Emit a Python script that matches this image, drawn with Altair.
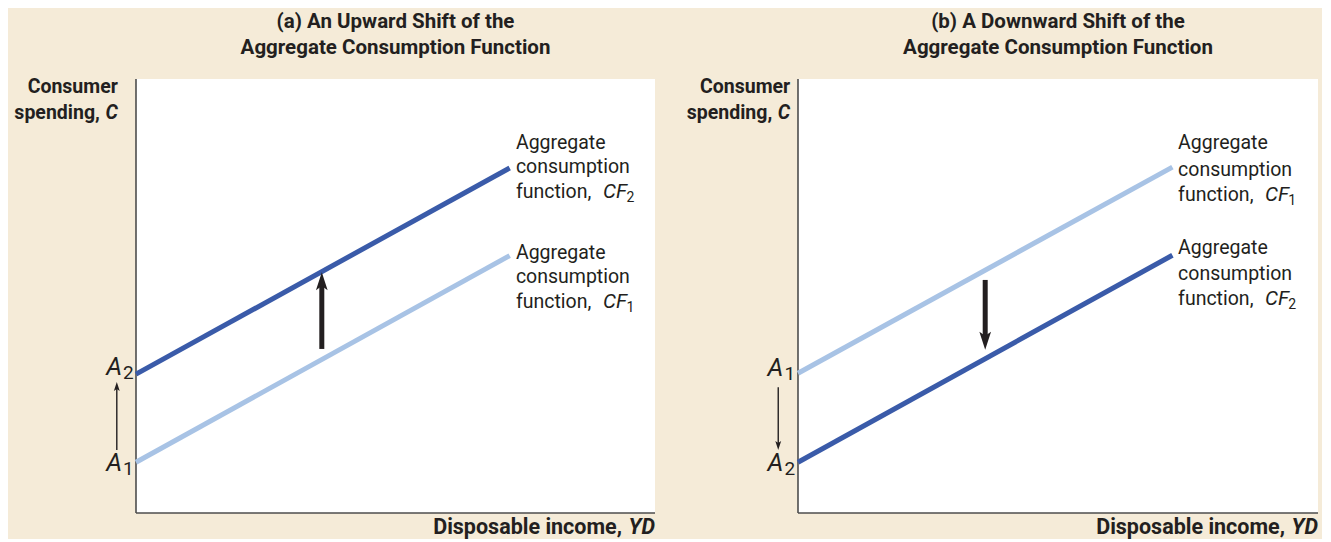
import altair as alt
import pandas as pd

BG = "#F5EBD8"
DARK = "#3A5BA9"
LIGHT = "#A8C3E5"
INK = "#231F20"
AXIS = "#4D4D4D"
FONT = "Liberation Sans Narrow, Roboto, sans-serif"

# ---- data (economic units 0..10 on both axes) ----
line_x = [0.0, 7.2]
a_cf2_y = [3.2, 7.95]
a_cf1_y = [1.17, 5.93]
b_cf1_y = [3.22, 7.97]
b_cf2_y = [1.17, 5.94]

titles_a = ["(a) An Upward Shift of the", "Aggregate Consumption Function"]
titles_b = ["(b) A Downward Shift of the", "Aggregate Consumption Function"]
label_lines = ["Aggregate", "consumption", "function,"]

# ---- layout (page pixels) ----
VIEW_H = 525
VIEW_TOP = 8
PLOT_Y = (79, 513)


def ydomain():
    per = (PLOT_Y[1] - PLOT_Y[0]) / 10.0
    bottom = -((VIEW_TOP + VIEW_H) - PLOT_Y[1]) / per
    top = 10 + (PLOT_Y[0] - VIEW_TOP) / per
    return [bottom, top], per


def xdomain(view_left, view_w, plot_left, plot_right):
    per = (plot_right - plot_left) / 10.0
    left = -(plot_left - view_left) / per
    right = 10 + ((view_left + view_w) - plot_right) / per
    return [left, right], per


def text_layer(rows, **kw):
    df = pd.DataFrame(rows, columns=["x", "y", "t"])
    return alt.Chart(df).mark_text(font=FONT, color=INK, baseline="middle", **kw).encode(
        x="x:Q", y="y:Q", text="t:N")


UP = "M0,-1L0.65,1L0,0.55L-0.65,1Z"
DOWN = "M0,1L0.65,-1L0,-0.55L-0.65,-1Z"


def panel(view_left, view_w, plot_left, plot_right, titles, upper_y, lower_y,
          upper_name, lower_name, up, ytitle_x,
          a_x, big_x, big_from, big_tip, small_from, small_tip,
          a_hi_sub, a_lo_sub, lab_x, cf_x, sub_x, lab_upper_ys, lab_lower_ys):
    xd, xper = xdomain(view_left, view_w, plot_left, plot_right)
    yd, yper = ydomain()
    X = alt.X("x:Q", scale=alt.Scale(domain=xd, nice=False, zero=False), axis=None)
    Y = alt.Y("y:Q", scale=alt.Scale(domain=yd, nice=False, zero=False), axis=None)
    X2 = alt.X2("x2:Q")
    Y2 = alt.Y2("y2:Q")

    bgdf = pd.DataFrame({"x": [0.0], "x2": [10.0], "y": [0.0], "y2": [10.0]})
    white = alt.Chart(bgdf).mark_rect(fill="white").encode(x=X, x2=X2, y=Y, y2=Y2)

    axdf = pd.DataFrame({"x": [0.0, 0.0], "x2": [0.0, 10.0], "y": [0.0, 0.0], "y2": [10.0, 0.0]})
    axes = alt.Chart(axdf).mark_rule(color=AXIS, strokeWidth=1.6).encode(x=X, x2=X2, y=Y, y2=Y2)

    ldf = pd.DataFrame({
        "x": line_x + line_x,
        "y": upper_y + lower_y,
        "s": [upper_name, upper_name, lower_name, lower_name],
    })
    lines = alt.Chart(ldf).mark_line(strokeWidth=5, strokeCap="butt").encode(
        x=X, y=Y, detail="s:N",
        color=alt.Color("s:N", scale=alt.Scale(domain=["CF1", "CF2"], range=[LIGHT, DARK]), legend=None))

    # big arrow
    shaft_end = big_tip - (0.3 if up else -0.3)
    sdf = pd.DataFrame({"x": [big_x], "y": [big_from], "y2": [shaft_end]})
    shaft = alt.Chart(sdf).mark_rule(color=INK, strokeWidth=5).encode(x=X, y=Y, y2=Y2)
    hdf = pd.DataFrame({"x": [big_x], "y": [big_tip]})
    head = alt.Chart(hdf).mark_point(shape=UP if up else DOWN, filled=True, opacity=1,
                                     color=INK, size=324, yOffset=9 if up else -9).encode(x=X, y=Y)

    # small arrow beside the axis
    sm_end = small_tip - (0.1 if up else -0.1)
    smdf = pd.DataFrame({"x": [a_x], "y": [small_from], "y2": [sm_end]})
    sm_shaft = alt.Chart(smdf).mark_rule(color=INK, strokeWidth=1.4).encode(x=X, y=Y, y2=Y2)
    smh = pd.DataFrame({"x": [a_x], "y": [small_tip]})
    sm_head = alt.Chart(smh).mark_point(shape=UP if up else DOWN, filled=True, opacity=1,
                                        color=INK, size=81, yOffset=4.5 if up else -4.5).encode(x=X, y=Y)

    layers = [white, axes, lines, shaft, head, sm_shaft, sm_head]

    # titles
    layers.append(text_layer([(5.0, 11.31, titles[0]), (5.0, 10.71, titles[1])],
                             align="center", fontSize=20.5, fontWeight="bold").encode(x=X, y=Y))
    # y title
    layers.append(text_layer([(ytitle_x, 9.82, "Consumer")], align="right", fontSize=19.5,
                             fontWeight="bold").encode(x=X, y=Y))
    layers.append(text_layer([(ytitle_x, 9.22, "spending,")], align="right", fontSize=19.5,
                             fontWeight="bold", dx=-18).encode(x=X, y=Y))
    layers.append(text_layer([(ytitle_x, 9.22, "C")], align="right", fontSize=19.5,
                             fontWeight="bold", fontStyle="italic").encode(x=X, y=Y))
    # x title
    layers.append(text_layer([(10.0, -0.35, "Disposable income,")], align="right", fontSize=21.5,
                             fontWeight="bold", dx=-33).encode(x=X, y=Y))
    layers.append(text_layer([(10.0, -0.35, "YD")], align="right", fontSize=21.5,
                             fontWeight="bold", fontStyle="italic").encode(x=X, y=Y))
    # A labels
    a_rows = [(a_x + 0.1, a_hi_sub[1], "A"), (a_x + 0.1, a_lo_sub[1], "A")]
    s_rows = [(a_x + 0.12, a_hi_sub[1], a_hi_sub[0]), (a_x + 0.12, a_lo_sub[1], a_lo_sub[0])]
    layers.append(text_layer(a_rows, align="right", fontSize=25, fontStyle="italic").encode(x=X, y=Y))
    layers.append(text_layer(s_rows, align="left", fontSize=19, dy=6).encode(x=X, y=Y))
    # line labels
    rows = [(lab_x, yy, t) for yy, t in zip(lab_upper_ys, label_lines)] + \
           [(lab_x, yy, t) for yy, t in zip(lab_lower_ys, label_lines)]
    layers.append(text_layer(rows, align="left", fontSize=19.5).encode(x=X, y=Y))
    layers.append(text_layer([(cf_x, lab_upper_ys[2], "CF"), (cf_x, lab_lower_ys[2], "CF")],
                             align="left", fontSize=20.5, fontStyle="italic").encode(x=X, y=Y))
    layers.append(text_layer([(sub_x, lab_upper_ys[2], upper_name[-1]), (sub_x, lab_lower_ys[2], lower_name[-1])],
                             align="left", fontSize=14, dy=6).encode(x=X, y=Y))

    return alt.layer(*layers).properties(width=view_w, height=VIEW_H)


pa = panel(8, 657, 136, 655, titles_a, a_cf2_y, a_cf1_y, "CF2", "CF1", True,
           -0.35, -0.37, 3.58, 3.78, 5.55, 1.45, 3.02,
           ("2", 3.36), ("1", 1.15), 7.32, 9.0, 9.45,
           [8.53, 7.97, 7.40], [5.99, 5.44, 4.86])
pb = panel(665, 657, 798, 1318, titles_b, b_cf1_y, b_cf2_y, "CF1", "CF2", False,
           -0.15, -0.38, 3.6, 5.37, 3.76, 2.9, 1.45,
           ("1", 3.34), ("2", 1.15), 7.31, 8.98, 9.43,
           [8.53, 7.90, 7.33], [6.11, 5.51, 4.93])

chart = alt.hconcat(pa, pb, spacing=0, bounds="flush").properties(
    padding=0, background=BG
).configure_view(stroke=None)

chart.save("out.html", embed_options={"renderer": "svg", "actions": False})
